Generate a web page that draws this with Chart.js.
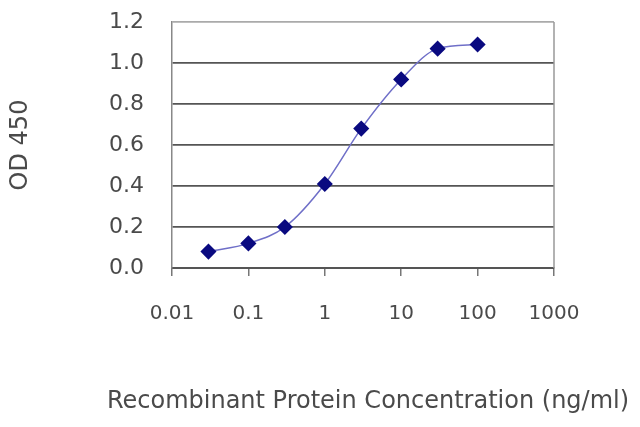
<!DOCTYPE html>
<html>
<head>
<meta charset="utf-8">
<script src="https://cdn.jsdelivr.net/npm/chart.js@4"></script>
<style>
  html, body { margin: 0; padding: 0; background: #fff; }
  #wrap { width: 640px; height: 427px; }
</style>
</head>
<body>
<div id="wrap"><canvas id="odChart"></canvas></div>
<script>
// concentrations (ng/ml) and OD 450 readings
const concentrations = [0.03, 0.1, 0.3, 1, 3, 10, 30, 100];
const odValues = [0.08, 0.12, 0.20, 0.41, 0.68, 0.92, 1.07, 1.09];
const xTicks = [0.01, 0.1, 1, 10, 100, 1000];
const yTicks = [0.0, 0.2, 0.4, 0.6, 0.8, 1.0, 1.2];
const xTitle = 'Recombinant Protein Concentration (ng/ml)';

const textColor = '#4a4a4a';
const fontFamily = '"DejaVu Sans", sans-serif';

const points = concentrations.map((c, i) => ({ x: c, y: odValues[i] }));

// the x title is wider than the plot, so it is drawn here instead of as a scale title
const xTitlePlugin = {
    id: 'xTitle',
    afterDraw(c) {
        const g = c.ctx;
        g.save();
        g.font = '24px ' + fontFamily;
        g.fillStyle = textColor;
        g.textAlign = 'center';
        g.textBaseline = 'middle';
        g.fillText(xTitle, 368, 402);
        g.restore();
    }
};

const frameEdge = {
    id: 'rightFrame',
    afterDraw(c) {
        const a = c.chartArea;
        c.ctx.save();
        c.ctx.strokeStyle = '#999';
        c.ctx.lineWidth = 1.5;
        c.ctx.beginPath();
        c.ctx.moveTo(a.right, a.top);
        c.ctx.lineTo(a.right, a.bottom);
        c.ctx.stroke();
        c.ctx.restore();
    }
};

const ctx = document.getElementById('odChart').getContext('2d');
const chart = new Chart(ctx, {
    type: 'line',
    data: {
        datasets: [{
            data: points,
            borderColor: '#6f6fc8',
            borderWidth: 1.5,
            cubicInterpolationMode: 'monotone',
            pointStyle: 'rectRot',
            pointRadius: 7,
            pointBackgroundColor: '#0a0a80',
            pointBorderColor: '#0a0a80',
            fill: false
        }]
    },
    options: {
        responsive: true,
        maintainAspectRatio: false,
        animation: false,
        layout: {
            padding: { top: 22, right: 86, left: 0, bottom: 0 }
        },
        plugins: {
            legend: { display: false },
            tooltip: { enabled: false }
        },
        scales: {
            x: {
                type: 'logarithmic',
                min: 0.01,
                max: 1000,
                afterBuildTicks: (scale) => {
                    scale.ticks = xTicks.map(v => ({ value: v }));
                },
                afterFit: (scale) => { scale.height = 159; },
                ticks: {
                    color: textColor,
                    font: { family: fontFamily, size: 20 },
                    padding: 26,
                    maxRotation: 0,
                    autoSkip: false,
                    callback: (v) => String(v)
                },
                grid: {
                    drawOnChartArea: false,
                    drawTicks: true,
                    tickLength: 8,
                    color: '#777',
                    lineWidth: 1.5
                },
                border: { color: '#555', width: 2 }
            },
            y: {
                min: 0,
                max: 1.2,
                afterBuildTicks: (scale) => {
                    scale.ticks = yTicks.map(v => ({ value: v }));
                },
                afterFit: (scale) => {
                    scale.width = 172;
                    scale.paddingTop = 0;
                    scale.paddingBottom = 0;
                },
                ticks: {
                    color: textColor,
                    font: { family: fontFamily, size: 22 },
                    padding: 28,
                    callback: (v) => v.toFixed(1)
                },
                grid: {
                    drawTicks: false,
                    color: (c) => c.tick.value >= 1.2 ? '#aaa' : '#555',
                    lineWidth: 1.8
                },
                border: { color: '#888', width: 1.5 },
                title: {
                    display: true,
                    text: 'OD 450',
                    color: textColor,
                    font: { family: fontFamily, size: 24 },
                    padding: { top: 6, bottom: 0 }
                }
            }
        }
    },
    plugins: [xTitlePlugin, frameEdge]
});
</script>
</body>
</html>
